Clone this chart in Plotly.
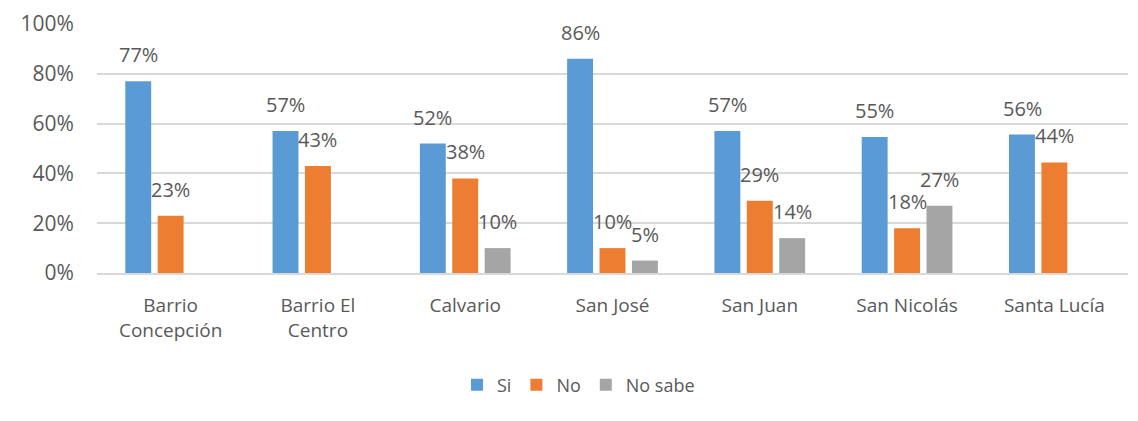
import plotly.graph_objects as go

categories = ["Barrio<br>Concepción", "Barrio El<br>Centro", "Calvario", "San José",
              "San Juan", "San Nicolás", "Santa Lucía"]
si = [77, 57, 52, 86, 57, 54.6, 55.6]
no = [23, 43, 38, 10, 29, 18, 44.4]
no_sabe = [None, None, 10, 5, 14, 27, None]

series = [("Si", si, "#5B9BD5"), ("No", no, "#ED7D31"), ("No sabe", no_sabe, "#A5A5A5")]

FONT = "Open Sans"
TXT = "#595959"

fig = go.Figure()
for name, vals, col in series:
    fig.add_trace(go.Bar(name=name, x=categories, y=vals, marker_color=col,
                         marker_line_width=0))

slot = 32.3
annotations = []
for i, (name, vals, col) in enumerate(series):
    for c, v in zip(categories, vals):
        if v is None:
            continue
        annotations.append(dict(x=c, y=v, xref="x", yref="y", text=f"{v:.0f}%",
                                showarrow=False, yanchor="bottom", xanchor="center",
                                xshift=(i - 1) * slot, yshift=11,
                                font=dict(family=FONT, size=20, color=TXT)))

fig.update_layout(
    width=1138, height=421,
    margin=dict(l=97, r=10, t=24, b=148),
    paper_bgcolor="white", plot_bgcolor="white",
    barmode="group", bargap=0.34, bargroupgap=0.2,
    font=dict(family=FONT, size=20, color=TXT),
    showlegend=True,
    legend=dict(orientation="h", x=0.467, xanchor="center", y=-0.45, yanchor="middle",
                font=dict(family=FONT, size=18, color=TXT), itemwidth=30),
    annotations=annotations,
)
fig.update_yaxes(range=[0, 100], dtick=20, ticksuffix="%", showgrid=True,
                 gridcolor="#D9D9D9", gridwidth=2, zeroline=False,
                 ticks="outside", ticklen=18, tickcolor="rgba(0,0,0,0)",
                 tickfont=dict(family=FONT, size=21, color=TXT))
fig.update_xaxes(showline=True, linecolor="#D9D9D9", linewidth=2,
                 ticks="outside", ticklen=14, tickcolor="rgba(0,0,0,0)",
                 tickfont=dict(family=FONT, size=19, color=TXT))

fig.write_html("out.html", config={"displayModeBar": False},
               post_script="document.body.style.margin='0';")
